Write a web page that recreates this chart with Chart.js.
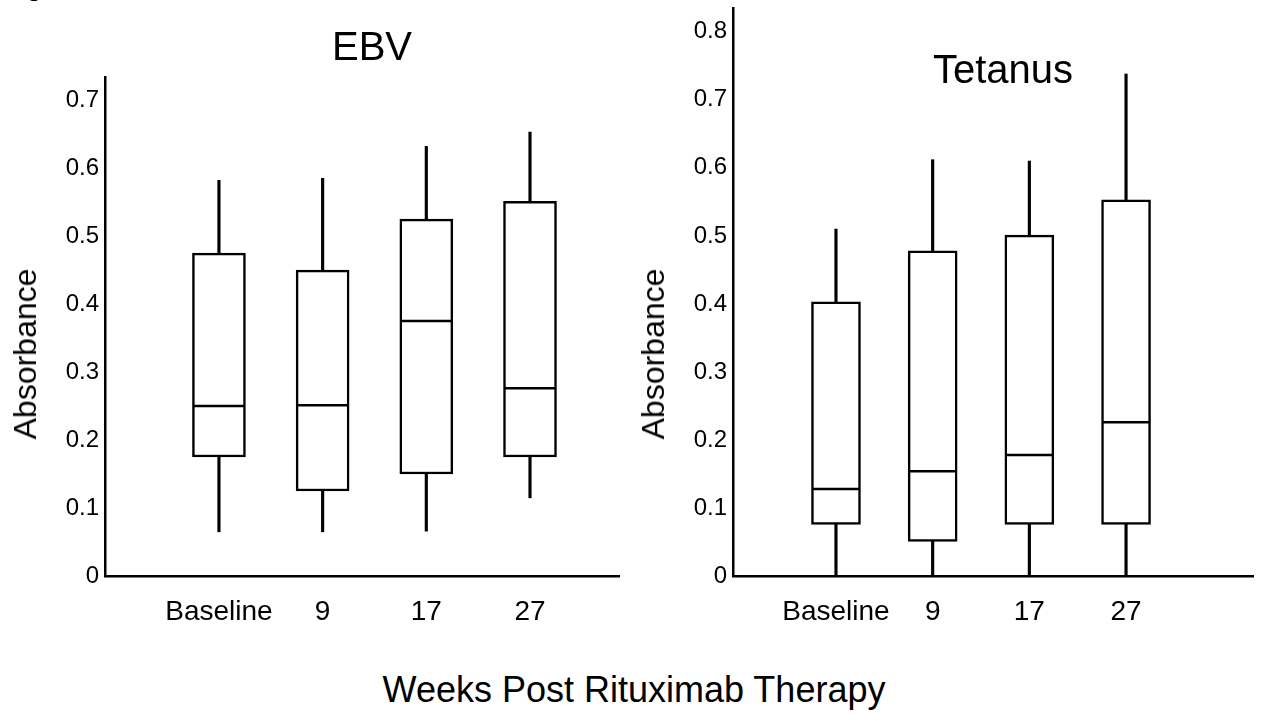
<!DOCTYPE html>
<html>
<head>
<meta charset="utf-8">
<script src="https://cdn.jsdelivr.net/npm/chart.js@4.4.1/dist/chart.umd.min.js"></script>
<style>
  body { margin: 0; background: #fff; font-family: "Liberation Sans", Arial, sans-serif; }
  #wrap { position: relative; width: 1261px; height: 721px; overflow: hidden; background: #fff; }
  .box { position: absolute; top: 0; height: 650px; }
  .txt { position: absolute; color: #000; white-space: nowrap; line-height: 1; }
</style>
</head>
<body>
<div id="wrap">
  <div class="txt" style="left:3px; top:-28px; font-size:28px;">Figure</div>
  <div class="box" style="left:0; width:620px;"><canvas id="ebvChart"></canvas></div>
  <div class="box" style="left:620px; width:641px;"><canvas id="tetChart"></canvas></div>
  <div class="txt" style="left:372px; top:26px; font-size:40px; transform:translateX(-50%);">EBV</div>
  <div class="txt" style="left:1003px; top:49px; font-size:40px; transform:translateX(-50%);">Tetanus</div>
  <div class="txt" style="left:25px; top:354px; font-size:32px; transform:translate(-50%,-50%) rotate(-90deg);">Absorbance</div>
  <div class="txt" style="left:653px; top:354px; font-size:32px; transform:translate(-50%,-50%) rotate(-90deg);">Absorbance</div>
  <div class="txt" style="left:634px; top:672px; font-size:36px; transform:translateX(-50%);">Weeks Post Rituximab Therapy</div>
</div>
<script>
// カテゴリ
const categories = ["Baseline", "9", "17", "27"];

// EBV
const ebvMin = [0.065, 0.065, 0.066, 0.115];
const ebvQ1 = [0.175, 0.125, 0.150, 0.175];
const ebvMedian = [0.250, 0.251, 0.375, 0.276];
const ebvQ3 = [0.475, 0.450, 0.525, 0.551];
const ebvMax = [0.582, 0.585, 0.632, 0.653];

// Tetanus
const tetMin = [0, 0, 0, 0];
const tetQ1 = [0.076, 0.051, 0.076, 0.076];
const tetMedian = [0.128, 0.154, 0.178, 0.226];
const tetQ3 = [0.403, 0.478, 0.501, 0.553];
const tetMax = [0.510, 0.612, 0.610, 0.738];

// 目盛り
const ebvTicks = [0, 0.1, 0.2, 0.3, 0.4, 0.5, 0.6, 0.7];
const tetTicks = [0, 0.1, 0.2, 0.3, 0.4, 0.5, 0.6, 0.7, 0.8];

const FONT = "'Liberation Sans', Arial, sans-serif";

function boxChart(canvasId, d, o) {
  const pts = (arr) => arr.map((v, i) => ({ x: i + 1, y: v }));
  const range = (lo, hi) => lo.map((v, i) => ({ x: i + 1, y: [v, hi[i]] }));

  return new Chart(document.getElementById(canvasId), {
    type: 'bar',
    data: {
      datasets: [
        {
          // 中央値
          type: 'line',
          data: pts(d.median),
          showLine: false,
          pointStyle: 'line',
          pointRadius: o.boxWidth / 2 - 1,
          pointBorderWidth: 2.5,
          pointBorderColor: '#000',
          borderColor: '#000',
          order: 0
        },
        {
          data: range(d.q3, d.max),
          backgroundColor: '#000',
          barThickness: 2.5,
          grouped: false,
          order: 1
        },
        {
          data: range(d.min, d.q1),
          backgroundColor: '#000',
          barThickness: 2.5,
          grouped: false,
          order: 1
        },
        {
          // 箱
          data: range(d.q1, d.q3),
          backgroundColor: '#fff',
          borderColor: '#000',
          borderWidth: 2.5,
          borderSkipped: false,
          barThickness: o.boxWidth,
          grouped: false,
          order: 2
        }
      ]
    },
    options: {
      responsive: true,
      maintainAspectRatio: false,
      animation: false,
      events: [],
      layout: { autoPadding: false, padding: { top: o.top, right: o.right, left: 0, bottom: 0 } },
      plugins: { legend: { display: false }, tooltip: { enabled: false } },
      scales: {
        x: {
          type: 'linear',
          offset: false,
          min: o.xmin,
          max: o.xmax,
          grid: { display: false, drawTicks: false },
          border: { display: true, color: '#000', width: 2.5 },
          afterBuildTicks: (s) => { s.ticks = categories.map((c, i) => ({ value: i + 1 })); },
          afterFit: (s) => { s.height = 74; s.paddingLeft = 0; s.paddingRight = 0; },
          ticks: {
            autoSkip: false,
            maxRotation: 0,
            padding: 19,
            color: '#000',
            font: { family: FONT, size: 28 },
            callback: (v) => categories[v - 1]
          }
        },
        y: {
          min: 0,
          max: o.ymax,
          grid: { display: false, drawTicks: false },
          border: { display: true, color: '#000', width: 2.5 },
          afterBuildTicks: (s) => { s.ticks = o.ticks.map(v => ({ value: v })); },
          afterFit: (s) => { s.width = o.axisWidth; s.paddingTop = 0; s.paddingBottom = 0; },
          ticks: {
            padding: 6,
            color: '#000',
            font: { family: FONT, size: 24 },
            callback: (v) => String(v)
          }
        }
      }
    }
  });
}

boxChart('ebvChart',
  { min: ebvMin, q1: ebvQ1, median: ebvMedian, q3: ebvQ3, max: ebvMax },
  { ticks: ebvTicks, ymax: 0.734, xmin: -0.099, xmax: 4.868, boxWidth: 53, top: 77, right: 0, axisWidth: 105 });

boxChart('tetChart',
  { min: tetMin, q1: tetQ1, median: tetMedian, q3: tetQ3, max: tetMax },
  { ticks: tetTicks, ymax: 0.835, xmin: -0.065, xmax: 5.313, boxWidth: 49, top: 8, right: 8, axisWidth: 113 });
</script>
</body>
</html>
